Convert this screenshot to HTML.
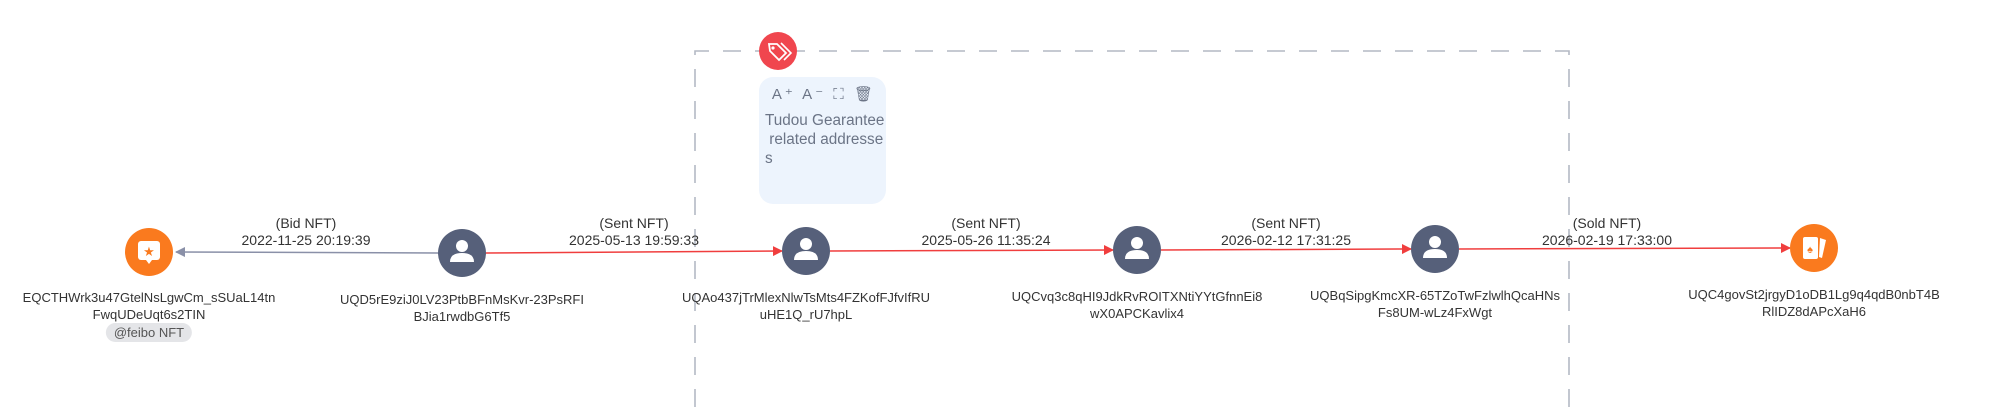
<!DOCTYPE html>
<html><head><meta charset="utf-8"><style>
body{margin:0;width:2000px;height:407px;background:#fff;overflow:hidden;position:relative;font-family:"Liberation Sans",sans-serif}
.t{position:absolute;transform:translateX(-50%);text-align:center;font-size:14px;line-height:17px;color:#333;white-space:nowrap}
.n{font-size:13px;line-height:17px}
.note{position:absolute;left:759px;top:77px;width:127px;height:127px;background:#edf4fd;border-radius:14px;color:#6b7486;font-size:15.3px;line-height:19px}
</style></head><body>
<svg width="2000" height="407" style="position:absolute;left:0;top:0">
<defs>
<marker id="r" markerWidth="10" markerHeight="10" refX="9" refY="5" orient="auto" markerUnits="userSpaceOnUse"><path d="M0,0 L10,5 L0,10z" fill="#f03e3e"/></marker>
<marker id="g" markerWidth="10" markerHeight="10" refX="9" refY="5" orient="auto" markerUnits="userSpaceOnUse"><path d="M0,0 L10,5 L0,10z" fill="#8a90a8"/></marker>
</defs>
<path d="M695,407 V51 H1569 V407" fill="none" stroke="#b4b9c4" stroke-width="1.6" stroke-dasharray="18,14"/>
<line x1="438" y1="253" x2="176" y2="252" stroke="#8a90a8" stroke-width="1.5" marker-end="url(#g)"/>
<line x1="486" y1="253" x2="782" y2="251" stroke="#f03e3e" stroke-width="1.5" marker-end="url(#r)"/>
<line x1="830" y1="251" x2="1113" y2="250" stroke="#f03e3e" stroke-width="1.5" marker-end="url(#r)"/>
<line x1="1161" y1="250" x2="1411" y2="249" stroke="#f03e3e" stroke-width="1.5" marker-end="url(#r)"/>
<line x1="1459" y1="249" x2="1790" y2="248" stroke="#f03e3e" stroke-width="1.5" marker-end="url(#r)"/>
<circle cx="149" cy="252" r="24" fill="#fa7a1e"/>
<rect x="138" y="241" width="22" height="19" rx="3" fill="#fff"/><path d="M146,260 l3,4 l3,-4z" fill="#fff"/>
<text x="149" y="256" font-size="13" fill="#fa7a1e" text-anchor="middle">★</text>
<g fill="#56607a">
<circle cx="462" cy="253" r="24"/><circle cx="806" cy="251" r="24"/><circle cx="1137" cy="250" r="24"/><circle cx="1435" cy="249" r="24"/>
</g>
<g fill="#fff">
<circle cx="462" cy="246" r="6"/><path d="M450,262 q0,-9 12,-9 q12,0 12,9z"/>
<circle cx="806" cy="244" r="6"/><path d="M794,260 q0,-9 12,-9 q12,0 12,9z"/>
<circle cx="1137" cy="243" r="6"/><path d="M1125,259 q0,-9 12,-9 q12,0 12,9z"/>
<circle cx="1435" cy="242" r="6"/><path d="M1423,258 q0,-9 12,-9 q12,0 12,9z"/>
</g>
<circle cx="1814" cy="248" r="24" fill="#fa7a1e"/>
<rect x="1803" y="237" width="15" height="22" rx="2" fill="#fff"/><path d="M1820,238 l6,2 l-4,18 l-3,-1z" fill="#fff"/>
<text x="1810" y="253" font-size="11" fill="#fa7a1e" text-anchor="middle">♠</text>
<circle cx="778" cy="51" r="19" fill="#f0464e"/>
<path d="M769,44 l8,0 l9,9 l-7,7 l-9,-9z" fill="none" stroke="#fff" stroke-width="1.8"/><circle cx="773" cy="48" r="1.6" fill="#fff"/><path d="M781,43 l10,10 l-7,7" fill="none" stroke="#fff" stroke-width="1.6"/>
</svg>
<div class="note">
<div style="position:absolute;right:10px;top:8px;font-size:15px;letter-spacing:3px">A⁺ A⁻ ⛶ 🗑</div>
<div style="position:absolute;left:6px;top:34px">Tudou Gearantee<br>&nbsp;related addresse<br>s</div>
</div>
<div class="t" style="left:306px;top:215px">(Bid NFT)<br>2022-11-25 20:19:39</div>
<div class="t" style="left:634px;top:215px">(Sent NFT)<br>2025-05-13 19:59:33</div>
<div class="t" style="left:986px;top:215px">(Sent NFT)<br>2025-05-26 11:35:24</div>
<div class="t" style="left:1286px;top:215px">(Sent NFT)<br>2026-02-12 17:31:25</div>
<div class="t" style="left:1607px;top:215px">(Sold NFT)<br>2026-02-19 17:33:00</div>
<div class="t n" style="left:149px;top:289px">EQCTHWrk3u47GtelNsLgwCm_sSUaL14tn<br>FwqUDeUqt6s2TIN</div>
<div class="t n" style="left:149px;top:323px;background:#e4e5e8;color:#555;border-radius:10px;padding:0 8px;line-height:19px">@feibo NFT</div>
<div class="t n" style="left:462px;top:291px">UQD5rE9ziJ0LV23PtbBFnMsKvr-23PsRFI<br>BJia1rwdbG6Tf5</div>
<div class="t n" style="left:806px;top:289px">UQAo437jTrMlexNlwTsMts4FZKofFJfvIfRU<br>uHE1Q_rU7hpL</div>
<div class="t n" style="left:1137px;top:288px">UQCvq3c8qHI9JdkRvROITXNtiYYtGfnnEi8<br>wX0APCKavlix4</div>
<div class="t n" style="left:1435px;top:287px">UQBqSipgKmcXR-65TZoTwFzlwlhQcaHNs<br>Fs8UM-wLz4FxWgt</div>
<div class="t n" style="left:1814px;top:286px">UQC4govSt2jrgyD1oDB1Lg9q4qdB0nbT4B<br>RlIDZ8dAPcXaH6</div>
</body></html>
